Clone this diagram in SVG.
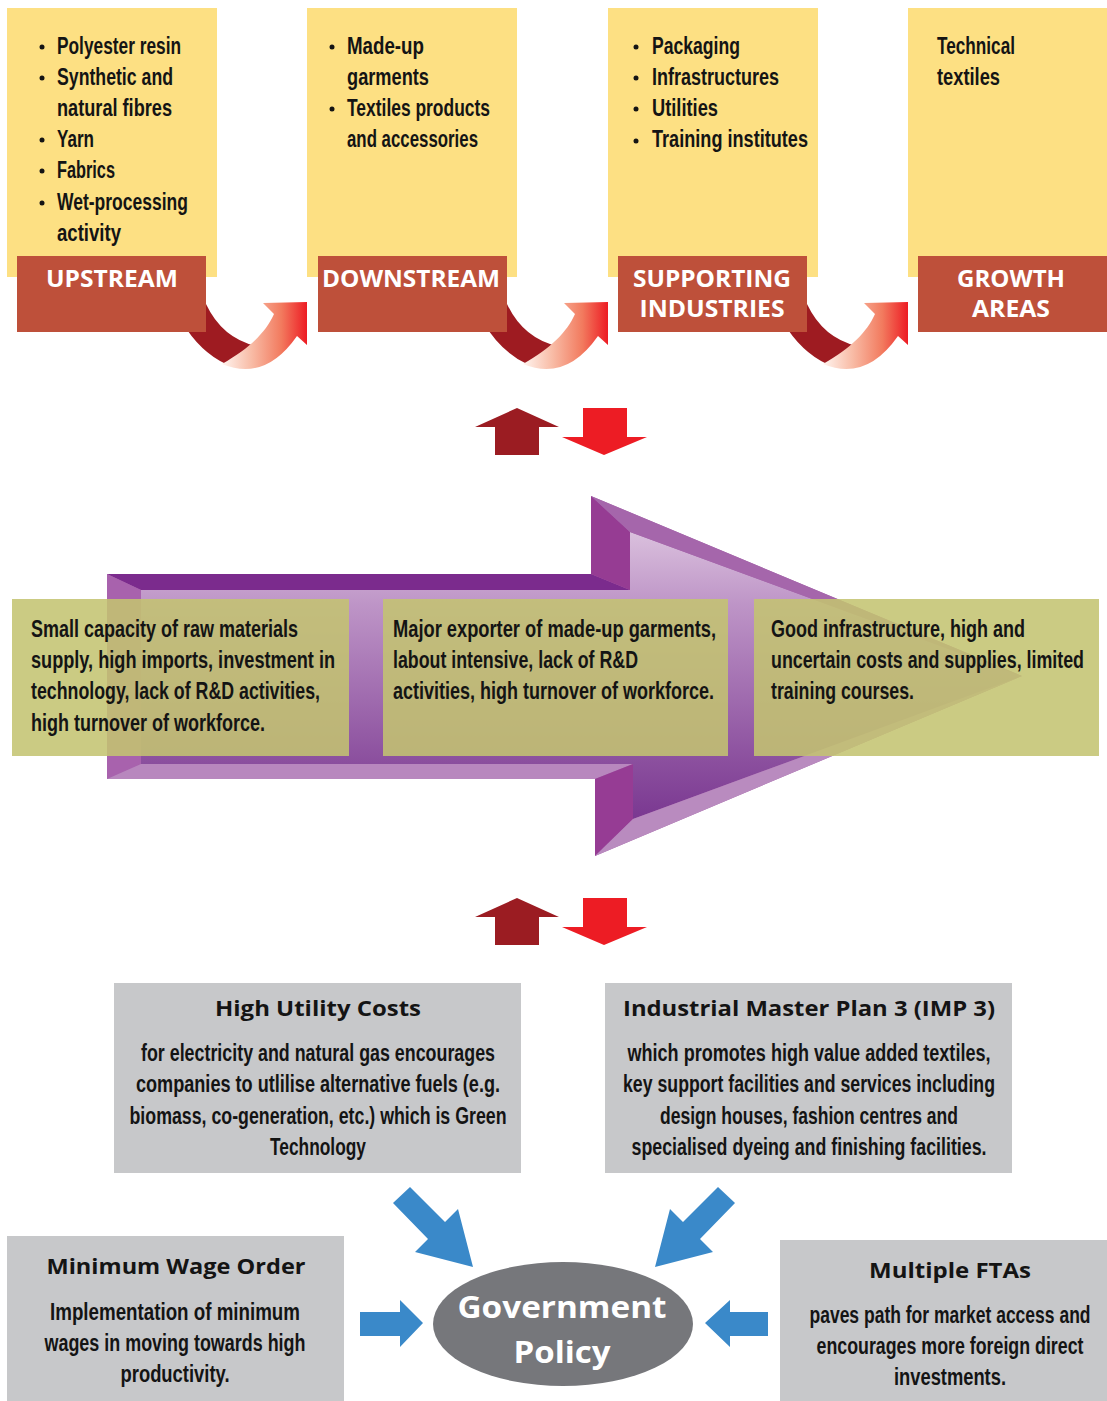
<svg xmlns="http://www.w3.org/2000/svg" xmlns:xlink="http://www.w3.org/1999/xlink" width="1107" height="1401" viewBox="0 0 1107 1401">
<style>
.yel{fill:#FDE083}
.red{fill:#BE503A}
.grey{fill:#C7C8CA}
.green{fill:#C3C370;opacity:0.87}
.c{font-family:"Liberation Sans Narrow","Liberation Sans",Arial,sans-serif;font-weight:bold;font-size:23px;fill:#141414}
.cm{font-family:"Liberation Sans Narrow","Liberation Sans",Arial,sans-serif;font-weight:bold;font-size:23px;fill:#141414;text-anchor:middle}
.lbl{font-family:"Open Sans","Liberation Sans",Arial,sans-serif;font-weight:bold;font-size:24px;fill:#ffffff;text-anchor:middle}
.hd{font-family:"Open Sans","Liberation Sans",Arial,sans-serif;font-weight:bold;font-size:22px;fill:#141414;text-anchor:middle}
.gp{font-family:"Open Sans","Liberation Sans",Arial,sans-serif;font-weight:bold;font-size:31px;fill:#ffffff;text-anchor:middle}
.blue{fill:#3A89C9}
.dot{fill:#141414}
</style>
<defs>
<linearGradient id="lightBand" x1="0" y1="0" x2="1" y2="0">
<stop offset="0" stop-color="#FFF4EF"/>
<stop offset="0.35" stop-color="#F8BBA5"/>
<stop offset="0.7" stop-color="#F27A5E"/>
<stop offset="1" stop-color="#ED1C24"/>
</linearGradient>
<linearGradient id="face" gradientUnits="userSpaceOnUse" x1="0" y1="532" x2="0" y2="819">
<stop offset="0" stop-color="#DAC0DD"/>
<stop offset="0.25" stop-color="#BE95C7"/>
<stop offset="0.8" stop-color="#8B4F9E"/>
<stop offset="1" stop-color="#7A3891"/>
</linearGradient>
<path id="darkBand" d="M182,322 Q200,352 226,364 L256,346 Q222,338 206,304 Z" fill="#9E1B21"/>
<path id="lightBandShape" d="M222,364 Q265,382 297,336 L307,345 L307,302 L263,303 L274,314 C266,332 250,348 222,364 Z" fill="url(#lightBand)"/>
<path id="upArrow" d="M517,408 L559,427 L539,427 L539,455 L495,455 L495,427 L475,427 Z" fill="#9B1C22"/>
<path id="downArrow" d="M583,408 L627,408 L627,437 L647,437 L604,455 L562,437 L583,437 Z" fill="#ED1C24"/>
</defs>

<g id="upstream">
<rect class="yel" x="7" y="8" width="210" height="269"/>
<circle class="dot" cx="42" cy="47" r="2.5"/>
<circle class="dot" cx="42" cy="78" r="2.5"/>
<circle class="dot" cx="42" cy="140" r="2.5"/>
<circle class="dot" cx="42" cy="171" r="2.5"/>
<circle class="dot" cx="42" cy="203" r="2.5"/>
<text class="c" x="57" y="54" textLength="124" lengthAdjust="spacingAndGlyphs">Polyester resin</text>
<text class="c" x="57" y="85" textLength="116" lengthAdjust="spacingAndGlyphs">Synthetic and</text>
<text class="c" x="57" y="116" textLength="115" lengthAdjust="spacingAndGlyphs">natural fibres</text>
<text class="c" x="57" y="147" textLength="37" lengthAdjust="spacingAndGlyphs">Yarn</text>
<text class="c" x="57" y="178" textLength="58" lengthAdjust="spacingAndGlyphs">Fabrics</text>
<text class="c" x="57" y="210" textLength="131" lengthAdjust="spacingAndGlyphs">Wet-processing</text>
<text class="c" x="57" y="241" textLength="64" lengthAdjust="spacingAndGlyphs">activity</text>
</g>

<g id="downstream">
<rect class="yel" x="307" y="8" width="210" height="269"/>
<circle class="dot" cx="332" cy="47" r="2.5"/>
<circle class="dot" cx="332" cy="109" r="2.5"/>
<text class="c" x="347" y="54" textLength="77" lengthAdjust="spacingAndGlyphs">Made-up</text>
<text class="c" x="347" y="85" textLength="82" lengthAdjust="spacingAndGlyphs">garments</text>
<text class="c" x="347" y="116" textLength="143" lengthAdjust="spacingAndGlyphs">Textiles products</text>
<text class="c" x="347" y="147" textLength="131" lengthAdjust="spacingAndGlyphs">and accessories</text>
</g>

<g id="supporting">
<rect class="yel" x="608" y="8" width="210" height="269"/>
<circle class="dot" cx="636" cy="47" r="2.5"/>
<circle class="dot" cx="636" cy="78" r="2.5"/>
<circle class="dot" cx="636" cy="109" r="2.5"/>
<circle class="dot" cx="636" cy="141" r="2.5"/>
<text class="c" x="652" y="54" textLength="88" lengthAdjust="spacingAndGlyphs">Packaging</text>
<text class="c" x="652" y="85" textLength="127" lengthAdjust="spacingAndGlyphs">Infrastructures</text>
<text class="c" x="652" y="116" textLength="66" lengthAdjust="spacingAndGlyphs">Utilities</text>
<text class="c" x="652" y="147" textLength="156" lengthAdjust="spacingAndGlyphs">Training institutes</text>
</g>

<g id="growth">
<rect class="yel" x="908" y="8" width="199" height="269"/>
<text class="c" x="937" y="54" textLength="78" lengthAdjust="spacingAndGlyphs">Technical</text>
<text class="c" x="937" y="85" textLength="63" lengthAdjust="spacingAndGlyphs">textiles</text>
</g>

<g id="connectors">
<use xlink:href="#darkBand"/>
<use xlink:href="#darkBand" transform="translate(301,0)"/>
<use xlink:href="#darkBand" transform="translate(601,0)"/>
</g>

<g id="labels">
<g id="label-upstream">
<rect class="red" x="17" y="256" width="189" height="76"/>
<text class="lbl" x="112" y="287" textLength="132" lengthAdjust="spacingAndGlyphs">UPSTREAM</text>
</g>
<g id="label-downstream">
<rect class="red" x="318" y="256" width="189" height="76"/>
<text class="lbl" x="411" y="287" textLength="178" lengthAdjust="spacingAndGlyphs">DOWNSTREAM</text>
</g>
<g id="label-supporting">
<rect class="red" x="618" y="256" width="189" height="76"/>
<text class="lbl" x="712" y="287" textLength="158" lengthAdjust="spacingAndGlyphs">SUPPORTING</text>
<text class="lbl" x="712" y="317" textLength="145" lengthAdjust="spacingAndGlyphs">INDUSTRIES</text>
</g>
<g id="label-growth">
<rect class="red" x="918" y="256" width="189" height="76"/>
<text class="lbl" x="1011" y="287" textLength="108" lengthAdjust="spacingAndGlyphs">GROWTH</text>
<text class="lbl" x="1011" y="317" textLength="78" lengthAdjust="spacingAndGlyphs">AREAS</text>
</g>
</g>

<g id="connectors-2">
<use xlink:href="#lightBandShape"/>
<use xlink:href="#lightBandShape" transform="translate(301,0)"/>
<use xlink:href="#lightBandShape" transform="translate(601,0)"/>
<use xlink:href="#upArrow"/>
<use xlink:href="#downArrow"/>
<use xlink:href="#upArrow" transform="translate(0,490)"/>
<use xlink:href="#downArrow" transform="translate(0,490)"/>
<path class="blue" d="M393,1203 L410,1187 L445,1222 L458,1209 L473,1267 L415,1252 L428,1239 Z"/>
<path class="blue" d="M735,1203 L718,1187 L683,1222 L670,1209 L655,1267 L713,1252 L700,1239 Z"/>
<path class="blue" d="M360,1312 L400,1312 L400,1300 L423,1323 L400,1347 L400,1336 L360,1336 Z"/>
<path class="blue" d="M768,1312 L730,1312 L730,1300 L705,1323 L730,1347 L730,1336 L768,1336 Z"/>
</g>

<g id="value-chain-arrow">
<polygon points="107,574 591,574 591,496 1022,676 595,856 595,779 107,779" fill="#A865AC"/>
<polygon points="141,590 630,590 630,532 1022,676 633,819 633,764 141,764" fill="url(#face)"/>
<polygon points="107,574 591,574 630,590 141,590" fill="#7B2B8D"/>
<polygon points="107,574 141,590 141,764 107,779" fill="#A862AD"/>
<polygon points="107,779 141,764 633,764 595,779" fill="#B887BE"/>
<polygon points="591,496 630,532 630,590 591,574" fill="#963C93"/>
<polygon points="633,764 633,819 595,856 595,779" fill="#963C94"/>
<polygon points="591,496 1022,676 630,532" fill="#A566AB"/>
<polygon points="633,819 1022,676 595,856" fill="#B98BBF"/>
</g>

<g id="issue-upstream">
<rect class="green" x="12" y="599" width="337" height="157"/>
<text class="c" x="31" y="637" textLength="267" lengthAdjust="spacingAndGlyphs">Small capacity of raw materials</text>
<text class="c" x="31" y="668" textLength="304" lengthAdjust="spacingAndGlyphs">supply, high imports, investment in</text>
<text class="c" x="31" y="699" textLength="289" lengthAdjust="spacingAndGlyphs">technology, lack of R&amp;D activities,</text>
<text class="c" x="31" y="731" textLength="234" lengthAdjust="spacingAndGlyphs">high turnover of workforce.</text>
</g>
<g id="issue-downstream">
<rect class="green" x="383" y="599" width="345" height="157"/>
<text class="c" x="393" y="637" textLength="323" lengthAdjust="spacingAndGlyphs">Major exporter of made-up garments,</text>
<text class="c" x="393" y="668" textLength="245" lengthAdjust="spacingAndGlyphs">labout intensive, lack of R&amp;D</text>
<text class="c" x="393" y="699" textLength="321" lengthAdjust="spacingAndGlyphs">activities, high turnover of workforce.</text>
</g>
<g id="issue-supporting">
<rect class="green" x="754" y="599" width="345" height="157"/>
<text class="c" x="771" y="637" textLength="254" lengthAdjust="spacingAndGlyphs">Good infrastructure, high and</text>
<text class="c" x="771" y="668" textLength="313" lengthAdjust="spacingAndGlyphs">uncertain costs and supplies, limited</text>
<text class="c" x="771" y="699" textLength="143" lengthAdjust="spacingAndGlyphs">training courses.</text>
</g>

<g id="high-utility-costs">
<rect class="grey" x="114" y="983" width="407" height="190"/>
<text class="hd" x="318" y="1016" textLength="206" lengthAdjust="spacingAndGlyphs">High Utility Costs</text>
<text class="cm" x="318" y="1061" textLength="354" lengthAdjust="spacingAndGlyphs">for electricity and natural gas encourages</text>
<text class="cm" x="318" y="1092" textLength="364" lengthAdjust="spacingAndGlyphs">companies to utlilise alternative fuels (e.g.</text>
<text class="cm" x="318" y="1124" textLength="377" lengthAdjust="spacingAndGlyphs">biomass, co-generation, etc.) which is Green</text>
<text class="cm" x="318" y="1155" textLength="96" lengthAdjust="spacingAndGlyphs">Technology</text>
</g>

<g id="imp3">
<rect class="grey" x="605" y="983" width="407" height="190"/>
<text class="hd" x="809" y="1016" textLength="372" lengthAdjust="spacingAndGlyphs">Industrial Master Plan 3 (IMP 3)</text>
<text class="cm" x="809" y="1061" textLength="363" lengthAdjust="spacingAndGlyphs">which promotes high value added textiles,</text>
<text class="cm" x="809" y="1092" textLength="372" lengthAdjust="spacingAndGlyphs">key support facilities and services including</text>
<text class="cm" x="809" y="1124" textLength="298" lengthAdjust="spacingAndGlyphs">design houses, fashion centres and</text>
<text class="cm" x="809" y="1155" textLength="355" lengthAdjust="spacingAndGlyphs">specialised dyeing and finishing facilities.</text>
</g>

<g id="minimum-wage">
<rect class="grey" x="7" y="1236" width="337" height="165"/>
<text class="hd" x="176" y="1274" textLength="259" lengthAdjust="spacingAndGlyphs">Minimum Wage Order</text>
<text class="cm" x="175" y="1320" textLength="250" lengthAdjust="spacingAndGlyphs">Implementation of minimum</text>
<text class="cm" x="175" y="1351" textLength="261" lengthAdjust="spacingAndGlyphs">wages in moving towards high</text>
<text class="cm" x="175" y="1382" textLength="109" lengthAdjust="spacingAndGlyphs">productivity.</text>
</g>

<g id="multiple-ftas">
<rect class="grey" x="780" y="1240" width="327" height="161"/>
<text class="hd" x="950" y="1278" textLength="162" lengthAdjust="spacingAndGlyphs">Multiple FTAs</text>
<text class="cm" x="950" y="1323" textLength="281" lengthAdjust="spacingAndGlyphs">paves path for market access and</text>
<text class="cm" x="950" y="1354" textLength="267" lengthAdjust="spacingAndGlyphs">encourages more foreign direct</text>
<text class="cm" x="950" y="1385" textLength="112" lengthAdjust="spacingAndGlyphs">investments.</text>
</g>

<g id="government-policy">
<ellipse cx="563" cy="1324" rx="130" ry="62" fill="#76777B"/>
<text class="gp" x="562" y="1318" textLength="209" lengthAdjust="spacingAndGlyphs">Government</text>
<text class="gp" x="562" y="1363" textLength="97" lengthAdjust="spacingAndGlyphs">Policy</text>
</g>
</svg>
